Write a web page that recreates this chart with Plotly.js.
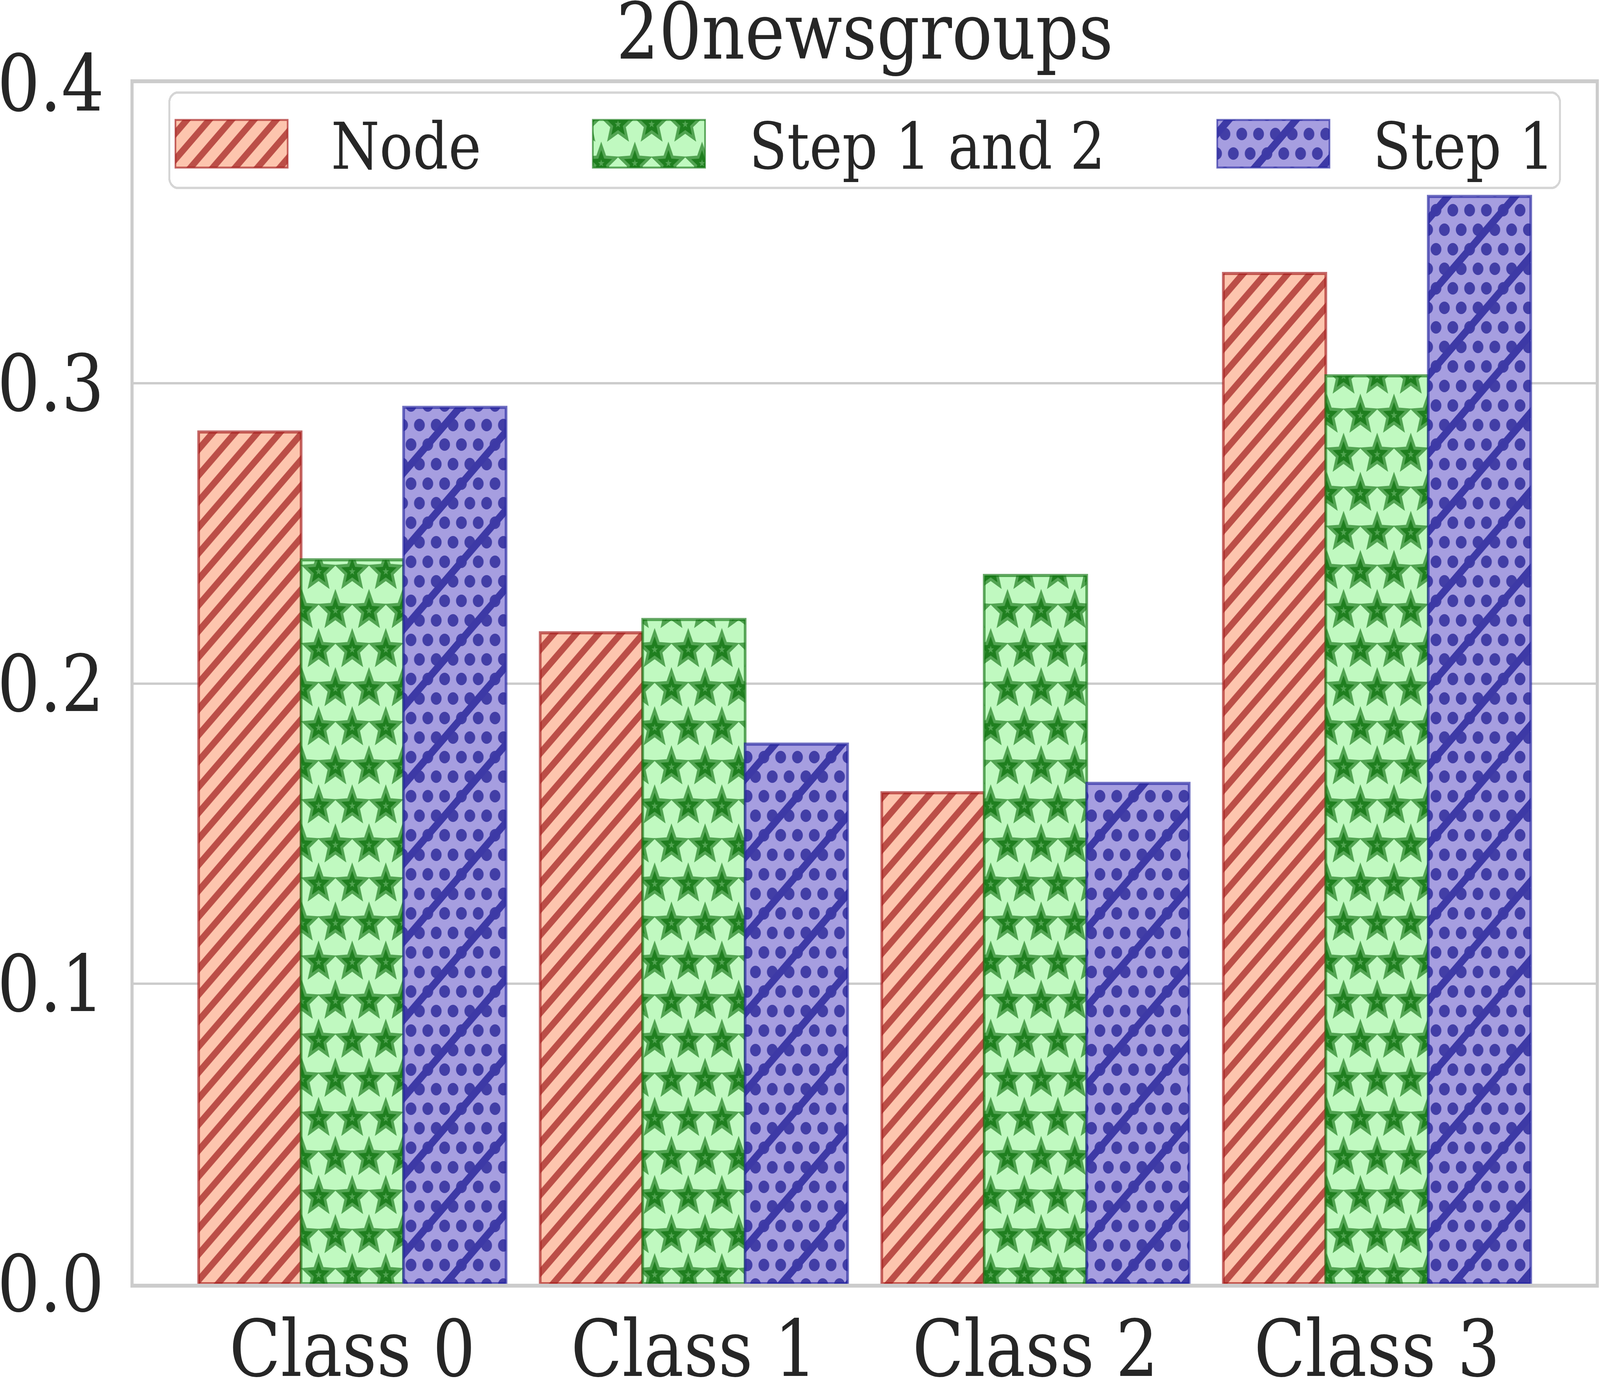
<!DOCTYPE html>
<html>
<head>
<meta charset="utf-8">
<script src="https://cdn.plot.ly/plotly-3.0.1.min.js"></script>
<style>
  html, body { margin: 0; padding: 0; background: #fff; overflow: hidden; }
  #chart { width: 4761px; height: 3535px; transform-origin: 0 0; }
</style>
</head>
<body>
<div id="chart"></div>
<script>
// values
let classes = ['Class 0', 'Class 1', 'Class 2', 'Class 3'];
let nodeValues = [0.2838, 0.2169, 0.1636, 0.3366];
let step12Values = [0.2412, 0.2213, 0.2360, 0.3025];
let step1Values = [0.2920, 0.1798, 0.1667, 0.3623];
let seriesNames = ['Node', 'Step 1 and 2', 'Step 1'];
let yTicks = [0, 0.1, 0.2, 0.3, 0.4];
let yTickText = ['0.0', '0.1', '0.2', '0.3', '0.4'];

let chart = document.getElementById('chart');
let textColor = '#262626';
let serif = 'DejaVu Serif, Liberation Serif, serif';

// the window can come out smaller than the 4761x3535 figure: squeeze it in
let fitX = Math.min(1, (window.innerWidth || 4761) / 4761);
let fitY = Math.min(1, (window.innerHeight || 3535) / 3535);
chart.style.transform = 'scale(' + fitX + ',' + fitY + ')';

let traces = [
    {
        type: 'bar', name: seriesNames[0], x: classes, y: nodeValues,
        marker: {
            color: '#fdc5ae',
            line: {color: 'rgba(165,25,25,0.65)', width: 8},
            pattern: {shape: '/', size: 47, solidity: 0.38, fgcolor: '#bb4e47', bgcolor: '#fdc5ae', fillmode: 'replace'}
        }
    },
    {
        type: 'bar', name: seriesNames[1], x: classes, y: step12Values,
        marker: {
            color: '#c0f9c0',
            line: {color: 'rgba(20,120,20,0.65)', width: 8},
            pattern: {shape: '.', size: 50, solidity: 0.3, fgcolor: '#2a8a2a', bgcolor: '#c0f9c0', fillmode: 'replace'}
        }
    },
    {
        type: 'bar', name: seriesNames[2], x: classes, y: step1Values,
        marker: {
            color: '#a69ee0',
            line: {color: 'rgba(35,35,160,0.65)', width: 8},
            pattern: {shape: '.', size: 50, solidity: 0.28, fgcolor: '#423ea6', bgcolor: '#a69ee0', fillmode: 'replace'}
        }
    }
];

let layout = {
    width: 4761,
    height: 3535,
    margin: {l: 398, r: 13, t: 213, b: 249},
    paper_bgcolor: '#ffffff',
    plot_bgcolor: '#ffffff',
    font: {family: serif, size: 200, color: textColor},
    title: {
        text: '20newsgroups',
        font: {family: serif, size: 200, color: textColor},
        x: 0.5, xref: 'paper',
        y: 1 - 80 / 3535, yref: 'container', yanchor: 'middle'
    },
    barmode: 'group',
    bargap: 0.1,
    bargroupgap: 0,
    showlegend: true,
    legend: {
        orientation: 'h',
        x: (501 - 398) / 4350, xanchor: 'left',
        y: 1 - 21 / 3073, yanchor: 'top',
        bgcolor: '#ffffff',
        bordercolor: '#d5d5d5',
        borderwidth: 6,
        itemwidth: 480,
        traceorder: 'normal',
        font: {family: serif, size: 165, color: textColor}
    },
    xaxis: {
        type: 'category',
        range: [-0.64, 3.64],
        showgrid: false,
        zeroline: false,
        showline: true, mirror: true,
        linecolor: '#cccccc', linewidth: 10,
        ticks: '',
        ticklabelstandoff: -14,
        tickfont: {family: serif, size: 200, color: textColor}
    },
    yaxis: {
        range: [0, 0.4],
        tickvals: yTicks,
        ticktext: yTickText,
        showgrid: true, gridcolor: '#cccccc', gridwidth: 6,
        zeroline: false,
        showline: true, mirror: true,
        linecolor: '#cccccc', linewidth: 10,
        ticks: '',
        ticklabelstandoff: 38,
        tickfont: {family: serif, size: 200, color: textColor}
    }
};

// matplotlib-like hatches that plotly has no shape for
function starPoints(cx, cy, R, r) {
    let pts = [];
    for (let k = 0; k < 10; k++) {
        let rad = k % 2 === 0 ? R : r;
        let a = -Math.PI / 2 + k * Math.PI / 5;
        pts.push((cx + rad * Math.cos(a)).toFixed(1) + ',' + (cy + rad * Math.sin(a)).toFixed(1));
    }
    return pts.join(' ');
}

function addPatterns(gd) {
    let defs = gd.querySelector('svg.main-svg defs');
    if (!defs) return;

    let centers = [[50, 50], [0, 150], [100, 150], [50, 250], [50, -50], [0, -150], [100, -150]];
    let stars = '<pattern id="ngStars" patternUnits="userSpaceOnUse" width="100" height="200">' +
        '<rect x="0" y="0" width="100" height="200" fill="#c0f9c0"/>';
    centers.forEach(function(c) {
        stars += '<polygon points="' + starPoints(c[0], c[1], 34, 15) + '" fill="#52a452" stroke="#52a452" stroke-width="16"/>';
    });
    centers.forEach(function(c) {
        stars += '<polygon points="' + starPoints(c[0], c[1], 34, 15) + '" fill="#1f7f1f"/>';
        stars += '<polygon points="' + starPoints(c[0], c[1], 10, 4) + '" fill="#52a452"/>';
    });
    stars += '</pattern>';

    let dots = '<pattern id="ngDots" patternUnits="userSpaceOnUse" width="200" height="200">' +
        '<rect x="0" y="0" width="200" height="200" fill="#a69ee0"/>';
    [25, 75, 125, 175].forEach(function(yy, row) {
        let xs = row % 2 === 0 ? [25, 75, 125, 175] : [0, 50, 100, 150, 200];
        xs.forEach(function(xx) {
            dots += '<circle cx="' + xx + '" cy="' + yy + '" r="16" fill="#423ea6"/>';
        });
    });
    dots += '<path d="M-20,220L220,-20M-20,20L20,-20M180,220L220,180" stroke="#3d39a6" stroke-width="20" fill="none"/>';
    dots += '</pattern>';

    defs.insertAdjacentHTML('beforeend', stars + dots);

    let fills = [null, 'url(#ngStars)', 'url(#ngDots)'];
    let barTraces = gd.querySelectorAll('.barlayer .trace.bars');
    barTraces.forEach(function(t, i) {
        let paths = t.querySelectorAll('path');
        if (!fills[i]) {
            // keep plotly's stripes, and reuse them for the legend swatch
            if (paths.length) fills[i] = paths[0].style.fill;
            return;
        }
        paths.forEach(function(p) {
            p.style.fill = fills[i];
            p.style.fillOpacity = 1;
        });
    });
    gd.querySelectorAll('.legend .traces').forEach(function(t, i) {
        if (!fills[i]) return;
        t.querySelectorAll('.legendpoints path').forEach(function(p) {
            p.style.fill = fills[i];
            p.style.fillOpacity = 1;
        });
    });
}

// bigger swatches and matplotlib spacing for the legend
let legendTextLeft = [484, 1728, 3584];
let legendSwatchLeft = [21, 1263, 3121];
let legendSwatchW = 334, legendSwatchH = 122;
let legendItemY = 134;
let legendBoxW = 4144, legendBoxH = 250;

function fixLegend(gd) {
    let leg = gd.querySelector('.infolayer .legend');
    if (!leg) return;
    let box = leg.querySelector('.scrollbox');
    if (box) box.removeAttribute('clip-path');
    let bg = leg.querySelector('rect.bg');
    if (bg) {
        bg.setAttribute('x', 3);
        bg.setAttribute('y', 3);
        bg.setAttribute('width', legendBoxW - 6);
        bg.setAttribute('height', legendBoxH - 6);
        bg.setAttribute('rx', 25);
        bg.setAttribute('ry', 25);
    }
    leg.querySelectorAll('.traces').forEach(function(t, i) {
        let txt = t.querySelector('text.legendtext');
        let tg = txt ? parseFloat(txt.getAttribute('x')) || 0 : 490;
        let itemX = legendTextLeft[i] - tg;
        t.setAttribute('transform', 'translate(' + itemX + ',' + legendItemY + ')');
        let sx = legendSwatchLeft[i] - itemX;
        t.querySelectorAll('.legendpoints path').forEach(function(p) {
            p.setAttribute('transform', '');
            p.setAttribute('d', 'M' + sx + ',' + (-legendSwatchH / 2) + 'H' + (sx + legendSwatchW) +
                'V' + (legendSwatchH / 2) + 'H' + sx + 'Z');
        });
    });
}

Plotly.newPlot(chart, traces, layout, {staticPlot: true}).then(function(gd) {
    addPatterns(gd);
    fixLegend(gd);
});
</script>
</body>
</html>
